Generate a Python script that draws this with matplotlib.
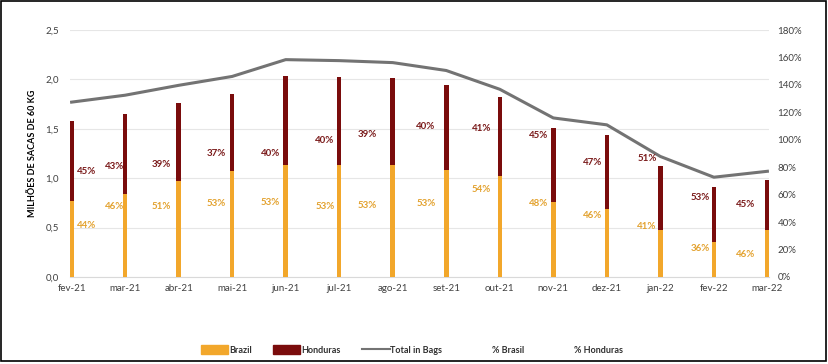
import matplotlib
matplotlib.use("Agg")
import matplotlib.pyplot as plt
import numpy as np
from matplotlib.patches import Rectangle, Patch
from matplotlib.lines import Line2D
from matplotlib.ticker import FuncFormatter

plt.rcParams['font.family'] = ['Lato', 'DejaVu Sans']

months = ["fev-21", "mar-21", "abr-21", "mai-21", "jun-21", "jul-21", "ago-21",
          "set-21", "out-21", "nov-21", "dez-21", "jan-22", "fev-22", "mar-22"]
brazil = [0.77, 0.84, 0.97, 1.07, 1.13, 1.13, 1.13, 1.08, 1.02, 0.76, 0.69, 0.48, 0.35, 0.48]
total_bars = [1.58, 1.65, 1.76, 1.85, 2.03, 2.02, 2.01, 1.94, 1.82, 1.51, 1.44, 1.12, 0.91, 0.98]
honduras = [t - b for t, b in zip(total_bars, brazil)]
total_in_bags = [1.77, 1.84, 1.94, 2.03, 2.20, 2.19, 2.17, 2.09, 1.90, 1.61, 1.54, 1.22, 1.01, 1.07]
pct_brasil = ["44%", "46%", "51%", "53%", "53%", "53%", "53%", "53%", "54%", "48%", "46%", "41%", "36%", "46%"]
pct_honduras = ["45%", "43%", "39%", "37%", "40%", "40%", "39%", "40%", "41%", "45%", "47%", "51%", "53%", "45%"]
# label anchor heights (left-axis units)
lab_brasil_y = [0.52, 0.71, 0.71, 0.74, 0.75, 0.71, 0.72, 0.74, 0.89, 0.74, 0.62, 0.51, 0.29, 0.23]
lab_hond_y = [1.07, 1.12, 1.14, 1.25, 1.25, 1.38, 1.44, 1.52, 1.50, 1.43, 1.16, 1.20, 0.80, 0.73]
lab_dx = [0.28, -0.2, -0.32, -0.3, -0.29, -0.27, -0.47, -0.38, -0.34, -0.27, -0.27, -0.25, -0.25, -0.4]

c_br = "#F2A72B"
c_ho = "#7A0C0C"
c_line = "#737373"
c_lab_br = "#E3A22F"
c_lab_ho = "#7A1A1A"

fig = plt.figure(figsize=(8.29, 3.64), dpi=100)
ax = fig.add_axes([70/829, 87/364, 699/829, 247/364])
x = np.arange(len(months))

ax.bar(x, brazil, width=0.085, color=c_br, zorder=3)
ax.bar(x, honduras, width=0.085, bottom=brazil, color=c_ho, zorder=3)
ax.plot(x, total_in_bags, color=c_line, lw=2.2, zorder=4)

for i in range(len(months)):
    ax.text(x[i] + lab_dx[i], lab_brasil_y[i], pct_brasil[i], color=c_lab_br,
            fontsize=7, fontweight='bold', ha='center', va='center', zorder=5)
    ax.text(x[i] + lab_dx[i], lab_hond_y[i], pct_honduras[i], color=c_lab_ho,
            fontsize=7, fontweight='bold', ha='center', va='center', zorder=5)

ax.set_xlim(-0.03, 13.03)
ax.set_ylim(0, 2.5)
ax.set_xticks(x)
ax.set_xticklabels(months, fontsize=7, color="#404040")
ax.set_yticks(np.arange(0, 2.51, 0.5))
ax.yaxis.set_major_formatter(FuncFormatter(lambda v, p: f"{v:.1f}".replace(".", ",")))
ax.tick_params(axis='y', labelsize=7, labelcolor="#404040", length=0, pad=8)
ax.tick_params(axis='x', length=0, pad=5)
ax.grid(axis='y', color="#E6E6E6", lw=0.8, zorder=0)
for s in ax.spines.values():
    s.set_visible(False)
ax.spines['bottom'].set_visible(True)
ax.spines['bottom'].set_color("#D9D9D9")
ax.set_ylabel("MILHÕES DE SACAS DE 60 KG", fontsize=6.5, fontweight='bold', color="#000000", labelpad=6)

ax2 = ax.twinx()
ax2.set_ylim(0, 1.8)
ax2.set_yticks(np.arange(0, 1.81, 0.2))
ax2.yaxis.set_major_formatter(FuncFormatter(lambda v, p: f"{v*100:.0f}%"))
ax2.tick_params(axis='y', labelsize=7, labelcolor="#404040", length=0, pad=6)
for s in ax2.spines.values():
    s.set_visible(False)

handles = [Patch(color=c_br, label="Brazil"),
           Patch(color=c_ho, label="Honduras"),
           Line2D([0], [0], color=c_line, lw=1.5, label="Total in Bags"),
           Line2D([0], [0], color='none', label="% Brasil"),
           Line2D([0], [0], color='none', label="% Honduras")]
leg = fig.legend(handles=handles, loc='center', bbox_to_anchor=(412/829, 1 - 350/364),
                 ncol=5, frameon=False, fontsize=6.5, handlelength=3.0, handleheight=1.0,
                 columnspacing=2.4, handletextpad=0.1)
for t in leg.get_texts():
    t.set_fontweight('bold')
    t.set_color("#303030")

fig.patches.append(Rectangle((1/829, 1 - 361/364), 825/829, 360/364, transform=fig.transFigure,
                             fill=False, edgecolor='black', lw=1.2))

fig.savefig("out.png", dpi=100)
